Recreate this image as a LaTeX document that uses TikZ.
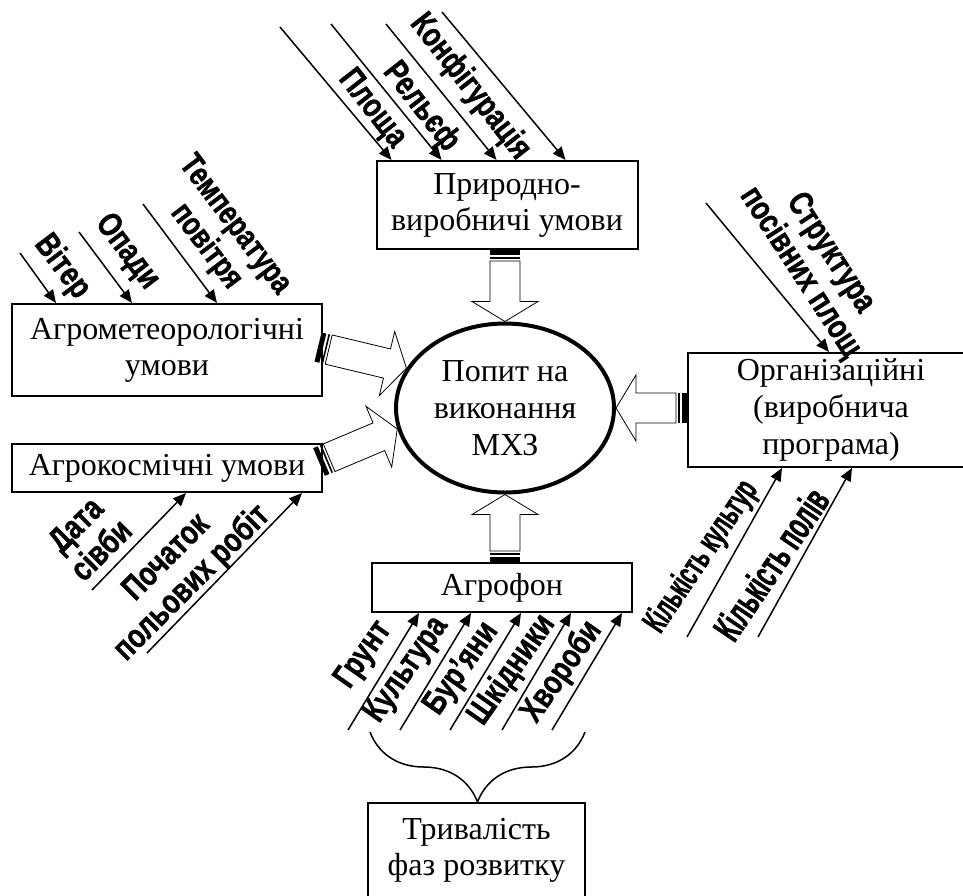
\documentclass[tikz,border=0pt]{standalone}
\usepackage{fontspec}
\setmainfont{Liberation Serif}
\newfontfamily\labelfont[FakeStretch=0.78, FakeBold=1]{Liberation Sans Bold}
\newfontfamily\narrowlabelfont[FakeStretch=0.58, FakeBold=1.2]{Liberation Sans Bold}
\usetikzlibrary{arrows.meta,calc,shapes.geometric,decorations.pathreplacing,backgrounds}

\newcommand{\stripedarrow}[2]{%
  \path let \p1 = ($(#2)-(#1)$) in
    \pgfextra{\pgfmathsetmacro{\arrang}{atan2(\y1,\x1)}\pgfmathsetmacro{\arrlen}{veclen(\x1,\y1)}%
      \global\let\arrang\arrang \global\let\arrlen\arrlen};
  \begin{scope}[on background layer, shift={(#1)}, rotate=\arrang, x=1pt, y=1pt, line width=1pt]
    \fill (0,-7.5) rectangle (2.5,7.5);
    \draw[line width=0.8pt] (4,-7.5) -- (4,7.5);
    \draw[fill=white] (5.5,-7.5) -- (5.5,7.5) -- (\arrlen-10,7.5) -- (\arrlen-10,16.5) -- (\arrlen,0)
      -- (\arrlen-10,-16.5) -- (\arrlen-10,-7.5) -- cycle;
  \end{scope}}

\begin{document}
\begin{tikzpicture}[x=0.5pt, y=-0.5pt,
  box/.style 2 args={draw, line width=1pt, minimum width=#1, minimum height=#2, align=center, inner sep=2pt, font=\fontsize{16}{18}\selectfont},
  factor/.style={-{Triangle[length=6.5pt, width=5.5pt]}, line width=0.75pt},
  lbl/.style={font=\labelfont\fontsize{17}{18}\selectfont, align=center, inner sep=0pt}]
\useasboundingbox (0,0) rectangle (963,895);
\clip (0,0) rectangle (963,895);

\node at (507,205) [box={130.5pt}{44pt}] (natural) {Природно-\\виробничі умови};
\node at (167,350) [box={155pt}{46pt}] (agromet) {Агрометеорологічні\\умови};
\node at (167,468) [box={155pt}{24pt}] (agrospace) {Агрокосмічні умови};
\node at (831,410) [box={143pt}{57pt}, font=\fontsize{16}{18.5}\selectfont] (org) {Організаційні\\(виробнича\\програма)};
\node at (502,587.5) [box={130pt}{24.5pt}] (agrofon) {Агрофон};
\node at (476.5,850) [box={108.5pt}{47pt}] (duration) {Тривалість\\фаз розвитку};
\node at (505,408) [draw, ellipse, line width=2pt, fill=white, minimum width=109pt, minimum height=84.5pt, inner sep=0pt, align=center, font=\fontsize{16}{18.5}\selectfont] (demand) {Попит на\\виконання\\МХЗ};

\coordinate (naturalout) at (natural.south -| demand.north);
\coordinate (agrometout) at ($(agromet.east)+(-5,-3)$);
\coordinate (agrospaceout) at ($(agrospace.east)+(-4,-6)$);
\coordinate (orgout) at (org.west |- demand.east);
\coordinate (agrofonout) at (agrofon.north -| demand.south);
\stripedarrow{naturalout}{demand.north}
\stripedarrow{agrometout}{demand.158}
\stripedarrow{agrospaceout}{demand.191}
\stripedarrow{orgout}{demand.east}
\stripedarrow{agrofonout}{demand.south}

\coordinate (t1) at (280,27);
\coordinate (t2) at (331,24);
\coordinate (t3) at (386,24);
\coordinate (t4) at (442,12);
\draw[factor] (t1) -- ([xshift=8pt]natural.north west);
\draw[factor] (t2) -- ([xshift=33pt]natural.north west);
\draw[factor] (t3) -- ([xshift=60.5pt]natural.north west);
\draw[factor] (t4) -- ([xshift=95pt]natural.north west);
\node at (372,109) [lbl, rotate=-52] (area) {Площа};
\node at (421,107) [lbl, rotate=-52] (relief) {Рельєф};
\node at (470,87) [lbl, rotate=-52] (config) {Конфігурація};

\coordinate (m1) at (20,253);
\coordinate (m2) at (79,232);
\coordinate (m3) at (143,204);
\draw[factor] (m1) -- ([xshift=22.5pt]agromet.north west);
\draw[factor] (m2) -- ([xshift=60.5pt]agromet.north west);
\draw[factor] (m3) -- ([xshift=103pt]agromet.north west);
\node at (62,267) [lbl, rotate=-53] (wind) {Вітер};
\node at (127,252) [lbl, rotate=-53] (rain) {Опади};
\node at (220,236) [lbl, rotate=-53, font=\labelfont\fontsize{16.5}{18}\selectfont] (temp) {Температура\\повітря};

\coordinate (s1) at (92,590);
\coordinate (s2) at (147,653);
\draw[factor] (s1) -- ([xshift=87.5pt]agrospace.south west);
\draw[factor] (s2) -- ([xshift=145.5pt]agrospace.south west);
\node at (88,537) [lbl, rotate=45] (sowing) {Дата\\сівби};
\node at (180,571) [lbl, rotate=45] (fieldwork) {Початок\\польових робіт};

\coordinate (o1) at (706,203);
\coordinate (o2) at (687,637);
\coordinate (o3) at (758,637);
\draw[factor] (o1) -- ([xshift=71pt]org.north west);
\draw[factor] (o2) -- ([xshift=47.5pt]org.south west);
\draw[factor] (o3) -- ([xshift=82.5pt]org.south west);
\node at (815,263) [lbl, rotate=-57] (structure) {Структура\\посівних площ};
\node at (702,557) [lbl, rotate=56, font=\narrowlabelfont\fontsize{17.3}{19}\selectfont] (crops) {Кількість культур};
\node at (771,564) [lbl, rotate=56, font=\narrowlabelfont\fontsize{19.7}{21}\selectfont] (fields) {Кількість полів};

\coordinate (b1) at (348,730);
\coordinate (b2) at (400,730);
\coordinate (b3) at (450,730);
\coordinate (b4) at (502,730);
\coordinate (b5) at (552,730);
\draw[factor] (b1) -- ([xshift=24pt]agrofon.south west);
\draw[factor] (b2) -- ([xshift=50pt]agrofon.south west);
\draw[factor] (b3) -- ([xshift=75pt]agrofon.south west);
\draw[factor] (b4) -- ([xshift=100pt]agrofon.south west);
\draw[factor] (b5) -- ([xshift=125.5pt]agrofon.south west);
\node at (364,655) [lbl, rotate=55] (soil) {Грунт};
\node at (407,670) [lbl, rotate=55] (crop) {Культура};
\node at (462,669) [lbl, rotate=55] (weeds) {Бур’яни};
\node at (512,670) [lbl, rotate=55] (pests) {Шкідники};
\node at (562,672) [lbl, rotate=55] (diseases) {Хвороби};

\coordinate (bracel) at (370,732);
\coordinate (bracer) at (585,732);
\draw[decorate, decoration={brace, mirror, amplitude=35pt}, line width=0.75pt] (bracel) -- (bracer);
\end{tikzpicture}
\end{document}
